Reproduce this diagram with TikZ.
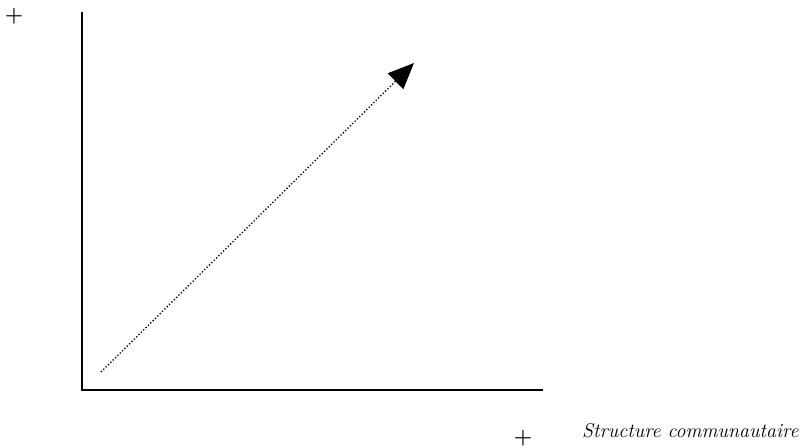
\documentclass[tikz,border=0pt]{standalone}
\usepackage{fontspec}
\usepackage{tikz}
\usetikzlibrary{arrows.meta}

\tikzset{bigtext/.style={inner sep=0pt, font=\fontsize{20}{24}\selectfont},
  plussign/.style={inner sep=0pt, font=\fontsize{21}{25}\selectfont\bfseries}}

\begin{document}
\begin{tikzpicture}[x=1pt, y=-1pt]
\useasboundingbox (0,0) rectangle (808,447);
% Draw axes
\draw[line width=1.5pt] (82,12) -- (82,390) -- (543,390);
% Draw dotted arrow
\coordinate (start) at (101,372);
\coordinate (tip) at (414,63);
\draw[dotted, line width=1.3pt, -{Triangle[length=26pt, width=22pt]}] (start) -- (tip);
% Mark plus signs
\node[plussign] (plusy) at (14,16) {+};
\node[plussign] (plusx) at (523,438) {+};
% Label
\node[bigtext, anchor=base west, font=\fontsize{20}{24}\selectfont\itshape] (lab) at (582,437) {Structure communautaire};
\end{tikzpicture}
\end{document}
